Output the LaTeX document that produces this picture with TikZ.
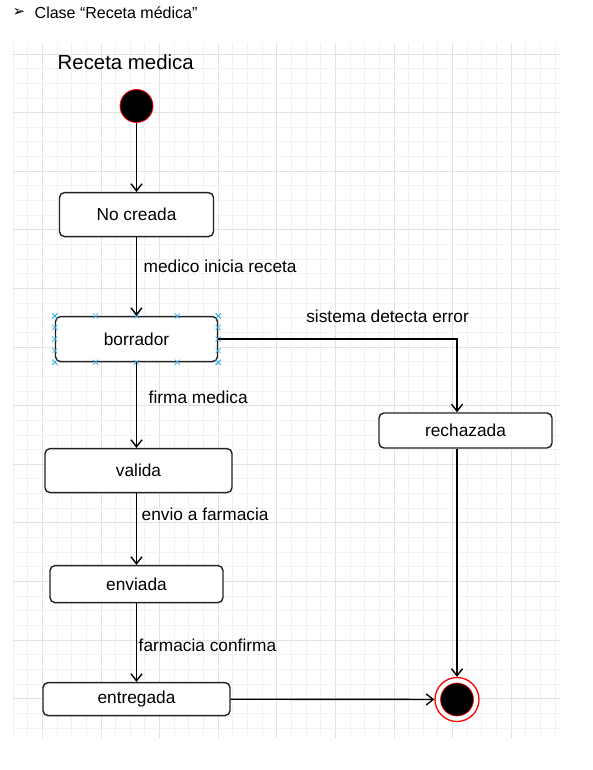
\documentclass[tikz,border=0pt]{standalone}
\usepackage{fontspec}
\setmainfont{Liberation Sans}
\newfontfamily\symfont{DejaVu Sans}
\usepackage{tikz}
\usetikzlibrary{positioning}
\usetikzlibrary{shapes,calc,arrows.meta}
\definecolor{gridminor}{HTML}{F2F2F2}
\definecolor{gridmajor}{HTML}{E2E2E2}
\definecolor{stroke}{HTML}{222222}
\definecolor{selblue}{HTML}{3AAEE6}
\tikzset{
  -{Straight Barb[length=7pt,width=11pt]},
  state/.style ={rectangle, rounded corners=5pt, draw=stroke, fill=white,
    inner sep=0pt, font=\fontsize{17.3}{20}\selectfont},
  el/.style = {anchor=west, inner sep=0pt, font=\fontsize{17.3}{20}\selectfont},
  point/.style = {circle, draw=red, line width=0.8pt, fill=black,
    minimum size=33pt, inner sep=0pt, node contents={}},
  endpoint/.style = {circle, draw=red, line width=1.3pt, fill=white,
    minimum size=44pt, inner sep=0pt, node contents={}},
  grab/.style = {cross out, draw=selblue, line width=0.7pt, -,
    minimum size=4.5pt, inner sep=0pt},
}

\begin{document}
\begin{tikzpicture}[x=1pt, y=-1pt, stroke, line width=1.4pt]
  \useasboundingbox (0,0) rectangle (592,770);
  \fill[white] (0,0) rectangle (592,770);
  % grid
  \begin{scope}[-, line width=0.8pt]
    \foreach \i in {0,...,37}{
      \pgfmathtruncatemacro\m{mod(\i,4)}
      \ifnum\m=2 \def\gc{gridmajor}\else\def\gc{gridminor}\fi
      \draw[\gc] ({13+14.65*\i},43) -- ({13+14.65*\i},738);
    }
    \foreach \j in {0,...,46}{
      \pgfmathtruncatemacro\m{mod(\j,4)}
      \ifnum\m=0 \def\gc{gridmajor}\else\def\gc{gridminor}\fi
      \draw[\gc] (13,{54+14.65*\j}) -- (560,{54+14.65*\j});
    }
  \end{scope}

  \node (bullet) at (19,12.5) [inner sep=0pt] {\symfont\fontsize{15}{17}\selectfont ➢};
  \node (hdr) at (34,13) [anchor=west, inner sep=0pt, font=\fontsize{16}{19}\selectfont] {Clase “Receta médica”};
  \node (title) at (57,62) [anchor=west, inner sep=0pt, font=\fontsize{20.4}{24}\selectfont] {Receta medica};

  \node (ini) [point, at={(136.5,106)}];
  \node (nocreada) [state, minimum width=154pt, minimum height=44pt, below=69pt of ini] {No creada};
  \node (borrador) [state, minimum width=162pt, minimum height=45pt, below=78.6pt of nocreada] {borrador};
  \node (valida) [state, minimum width=187pt, minimum height=44pt, below=85.6pt of borrador, xshift=2pt] {valida};
  \node (enviada) [state, minimum width=173pt, minimum height=37pt, below=71.6pt of valida, xshift=-2pt] {enviada};
  \node (entregada) [state, minimum width=187pt, minimum height=33pt, below=78.6pt of enviada] {entregada};
  \node (rechazada) [state, minimum width=173pt, minimum height=35pt, at={(465.5,430.5)}] {rechazada};
  \node (fin) [endpoint, at={(457,699.5)}];
  \fill[black, draw=red, line width=0.6pt] (fin) circle (16.5pt);

  % selection handles
  \foreach \f in {0,0.25,0.5,0.75,1}{
    \node[grab] at ($(borrador.north west)!\f!(borrador.north east)$) {};
    \node[grab] at ($(borrador.south west)!\f!(borrador.south east)$) {};
    \node[grab] at ($(borrador.north west)!\f!(borrador.south west)$) {};
    \node[grab] at ($(borrador.north east)!\f!(borrador.south east)$) {};
  }

  \path (ini) edge (nocreada);
  \draw (nocreada) -- node[el, pos=.375, xshift=6.5pt] {medico inicia receta} (borrador);
  \draw (borrador) -- node[el, pos=.414, xshift=11.5pt] {firma medica} (borrador |- valida.north);
  \draw (valida.south -| borrador) -- node[el, pos=.30, xshift=4.5pt] {envio a farmacia} (enviada);
  \draw (enviada) -- node[el, pos=.54, xshift=1.5pt] {farmacia confirma} (entregada);
  \draw (borrador.east) -| node[el, pos=.183, yshift=23pt] {sistema detecta error} ([xshift=-8.5pt]rechazada.north);
  \draw ([xshift=-8.5pt]rechazada.south) -- (fin);
  \draw (entregada) -- (fin);
\end{tikzpicture}
\end{document}
